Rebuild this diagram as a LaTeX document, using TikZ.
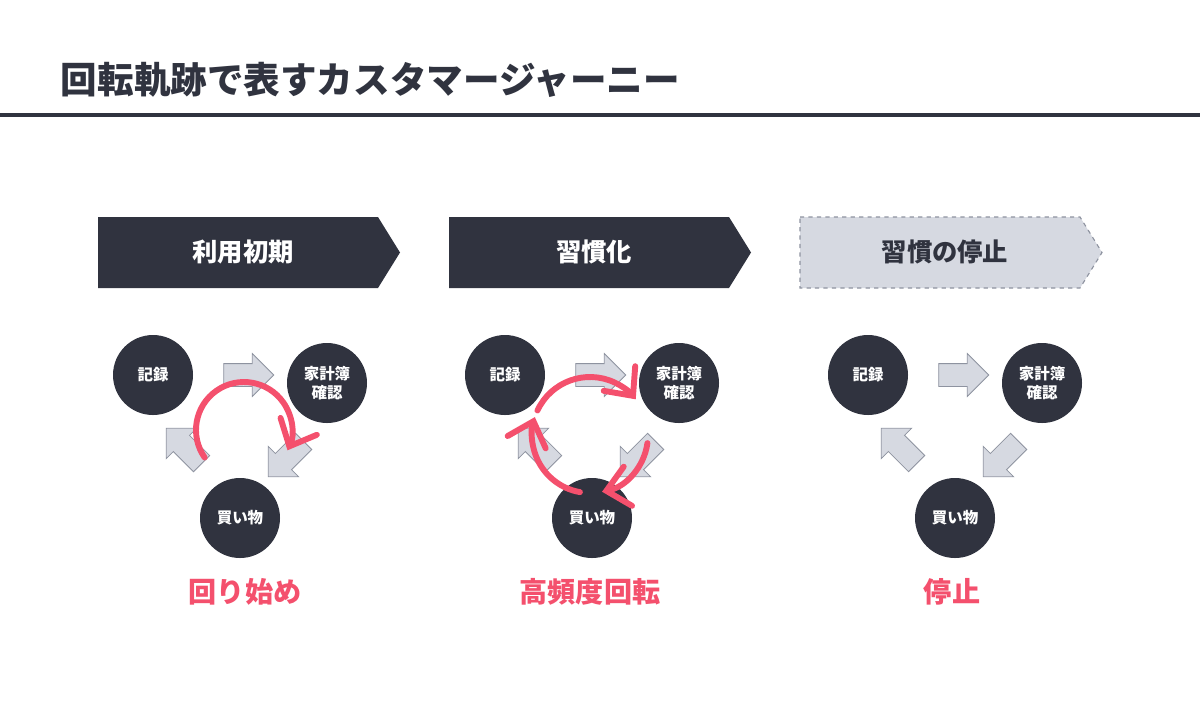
\documentclass[tikz,border=0pt]{standalone}
\usepackage{fontspec}
\newfontfamily\cjk{Noto Sans CJK JP}
\usetikzlibrary{shapes.arrows,arrows.meta,positioning}
\definecolor{ink}{HTML}{30333F}
\definecolor{pale}{HTML}{D6D9E1}
\definecolor{rim}{HTML}{8E93A0}
\definecolor{rose}{HTML}{F4506D}
\tikzset{>=latex,
  step circle/.style={circle, fill=ink, minimum size=80*0.025cm, inner sep=0pt, text=white,
    font=\cjk\bfseries\fontsize{11}{14}\selectfont, align=center},
  flow/.style={single arrow, fill=pale, draw=rim, line width=0.6pt, minimum height=50*0.025cm,
    inner sep=11*0.025cm, single arrow head extend=10*0.025cm},
  banner/.style={text=white, font=\cjk\bfseries\fontsize{18}{20}\selectfont},
  turn/.style={rose, line width=4.2pt, line cap=round, -{Straight Barb[length=5.5mm,width=10mm,line cap=round]}},
  phase/.style={rose, font=\cjk\bfseries\fontsize{20}{22}\selectfont}
}
\begin{document}
\begin{tikzpicture}[x=0.025cm,y=-0.025cm]
    \useasboundingbox[fill=white] (0,0) rectangle (1200,719);

    % title
    \node[anchor=west, text=ink, font=\cjk\bfseries\fontsize{26}{28}\selectfont] (title) at (56,80) {回転軌跡で表すカスタマージャーニー};
    \draw[ink, line width=2.2pt] (0,115) -- (1200,115);

    % banners
    \fill[ink] (98,217) -- (378,217) -- (400,252.5) -- (378,288) -- (98,288) -- cycle;
    \fill[ink] (449,217) -- (729,217) -- (751,252.5) -- (729,288) -- (449,288) -- cycle;
    \draw[rim, fill=pale, dashed, line width=0.8pt] (800,217) -- (1080,217) -- (1102,252.5) -- (1080,288) -- (800,288) -- cycle;
    \node[banner] (b1) at (243,252) {利用初期};
    \node[banner] (b2) at (594,252) {習慣化};
    \node[banner, text=ink] (b3) at (945,252) {習慣の停止};

    % three cycles
    \foreach \i/\dx in {1/0, 2/352, 3/715}
    {
        \begin{scope}[xshift=\dx*0.025cm]
            \node[flow] (fa\i) at (243,375) {};
            \node[flow, rotate=-135] (fb\i) at (290,455) {};
            \node[flow, rotate=135] (fc\i) at (188,450) {};
            \node[step circle] (rec\i) at (153,375) {記録};
            \node[step circle] (book\i) at (327,383) {家計簿\\確認};
            \node[step circle] (buy\i) at (240,518) {買い物};
        \end{scope}
    }

    % rotations
    \draw[turn] ([shift={(244,430)}] 145:48) arc[start angle=145, end angle=385, radius=48];
    \draw[turn] ([shift={(590,435)}] 205:58) arc[start angle=205, end angle=322, radius=58];
    \draw[turn] ([shift={(590,435)}] 8:58) arc[start angle=8, end angle=78, radius=58];
    \draw[turn] ([shift={(590,435)}] 100:58) arc[start angle=100, end angle=198, radius=58];

    % labels
    \node[phase] (p1) at (245,592) {回り始め};
    \node[phase] (p2) at (590,592) {高頻度回転};
    \node[phase] (p3) at (952,592) {停止};
\end{tikzpicture}
\end{document}
